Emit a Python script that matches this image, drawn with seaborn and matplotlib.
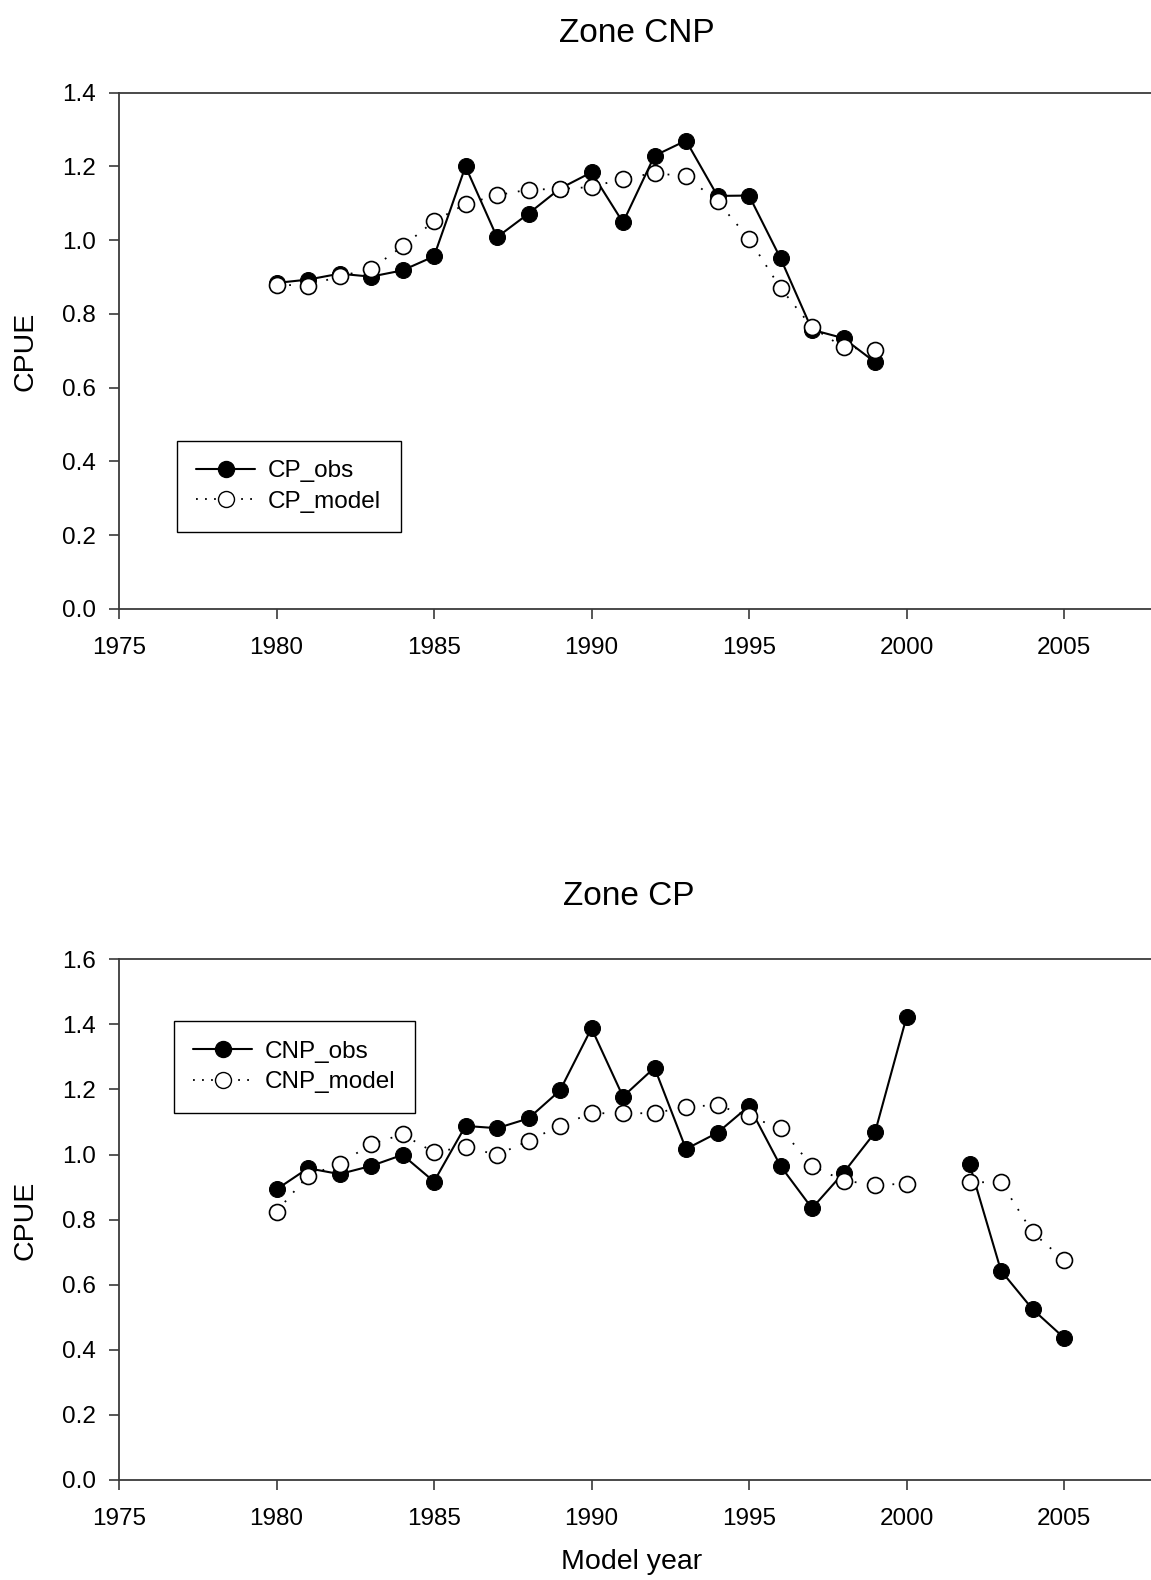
#!/usr/bin/env python3
"""
CPUE observed vs model, two zones (seaborn line plots)
"""

import numpy as np
import pandas as pd
import matplotlib
matplotlib.use('Agg')
import matplotlib.pyplot as plt
from matplotlib.lines import Line2D
import seaborn as sns

sns.set_style('white')
plt.rcParams['font.family'] = ['Liberation Sans', 'DejaVu Sans']
plt.rcParams['text.color'] = 'black'
plt.rcParams['axes.labelcolor'] = 'black'

# Top panel (Zone CNP)
years_top = list(range(1980, 2000))
cp_obs = [0.884, 0.893, 0.909, 0.901, 0.918, 0.956, 1.200, 1.008, 1.072, 1.140,
          1.184, 1.048, 1.229, 1.270, 1.120, 1.121, 0.951, 0.757, 0.734, 0.669]
cp_model = [0.879, 0.877, 0.902, 0.922, 0.983, 1.051, 1.098, 1.122, 1.137, 1.139,
            1.144, 1.167, 1.182, 1.173, 1.105, 1.004, 0.870, 0.764, 0.709, 0.703]

# Bottom panel (Zone CP), no value for 2001
years_bot = list(range(1980, 2001)) + [2002, 2003, 2004, 2005]
cnp_obs = [0.893, 0.958, 0.940, 0.965, 0.999, 0.917, 1.088, 1.081, 1.111, 1.197,
           1.388, 1.178, 1.267, 1.017, 1.067, 1.149, 0.965, 0.835, 0.944, 1.068,
           1.422, 0.971, 0.643, 0.525, 0.437]
cnp_model = [0.825, 0.935, 0.971, 1.032, 1.062, 1.007, 1.024, 0.999, 1.042, 1.089,
             1.127, 1.127, 1.127, 1.147, 1.152, 1.117, 1.081, 0.965, 0.920, 0.907,
             0.910, 0.915, 0.915, 0.761, 0.676]

W, H = 1151, 1580
TICK_FS = 17.5
LABEL_FS = 20.5
TITLE_FS = 24
AXIS_COLOR = '#3a3a3a'


def px_x(x):
    return x / W


def px_y(y):
    return 1 - y / H


def draw_panel(ax, years, obs, model, labels, ymax, legend_top, legend_left):
    df = pd.DataFrame({'year': years, 'obs': obs, 'model': model})
    # split into segments where a year is missing so the lines break
    df['seg'] = (df['year'].diff().fillna(1) > 1).cumsum()

    sns.lineplot(data=df, x='year', y='obs', units='seg', estimator=None, ax=ax,
                 color='black', linewidth=1.5, marker='o', markersize=11.5,
                 markerfacecolor='black', markeredgecolor='black', zorder=3)
    sns.lineplot(data=df, x='year', y='model', units='seg', estimator=None, ax=ax,
                 color='black', linewidth=1.3, linestyle=(0, (1, 6)), marker='o',
                 markersize=11.5, markerfacecolor='white', markeredgecolor='black',
                 markeredgewidth=1.2, zorder=4)

    ax.set_xlim(1975, 2010)
    ax.set_ylim(0, ymax)
    ax.set_xticks([1975, 1980, 1985, 1990, 1995, 2000, 2005])
    yt = np.arange(0, ymax + 0.001, 0.2)
    ax.set_yticks(yt)
    ax.set_yticklabels([f'{v:.1f}' for v in yt])
    ax.set_xlabel('')
    ax.set_ylabel('')
    ax.tick_params(axis='both', direction='out', length=7, width=1.2,
                   color=AXIS_COLOR, labelsize=TICK_FS, labelcolor='black',
                   left=True, bottom=True)
    ax.tick_params(axis='y', pad=9.5)
    ax.tick_params(axis='x', pad=13)
    for side in ['left', 'bottom', 'top']:
        ax.spines[side].set_visible(True)
        ax.spines[side].set_color(AXIS_COLOR)
        ax.spines[side].set_linewidth(1.3)
    ax.spines['right'].set_visible(False)

    handles = [
        Line2D([], [], color='black', linewidth=1.5, marker='o', markersize=11.5,
               markerfacecolor='black', markeredgecolor='black'),
        Line2D([], [], color='black', linewidth=1.3, linestyle=(0, (1, 4)), marker='o',
               markersize=11.5, markerfacecolor='white', markeredgecolor='black'),
    ]
    leg = ax.legend(handles, labels, loc='upper left',
                    bbox_to_anchor=(px_x(legend_left), px_y(legend_top)),
                    bbox_transform=ax.figure.transFigure, fontsize=TICK_FS,
                    frameon=True, fancybox=False, shadow=False, framealpha=1,
                    edgecolor='black', handlelength=2.4, handletextpad=0.55,
                    borderpad=0.8, labelspacing=0.35, borderaxespad=0)
    leg.get_frame().set_linewidth(1.0)


fig = plt.figure(figsize=(W / 100, H / 100), dpi=100)

ax1 = fig.add_axes([px_x(119), px_y(608.8), 1102.5 / W, (608.8 - 92.7) / H])
ax2 = fig.add_axes([px_x(119), px_y(1480), 1102.5 / W, (1480 - 959.3) / H])

draw_panel(ax1, years_top, cp_obs, cp_model, ['CP_obs', 'CP_model'], 1.4, 440.7, 177)
draw_panel(ax2, years_bot, cnp_obs, cnp_model, ['CNP_obs', 'CNP_model'], 1.6, 1021.3, 174)

fig.text(px_x(637), px_y(42), 'Zone CNP', ha='center', va='baseline', fontsize=TITLE_FS)
fig.text(px_x(629), px_y(905), 'Zone CP', ha='center', va='baseline', fontsize=TITLE_FS)
fig.text(px_x(25), px_y(351), 'CPUE', ha='center', va='center', rotation=90, fontsize=LABEL_FS)
fig.text(px_x(25), px_y(1220), 'CPUE', ha='center', va='center', rotation=90, fontsize=LABEL_FS)
fig.text(px_x(632), px_y(1569), 'Model year', ha='center', va='baseline', fontsize=LABEL_FS)

fig.savefig('out.png', dpi=100)
